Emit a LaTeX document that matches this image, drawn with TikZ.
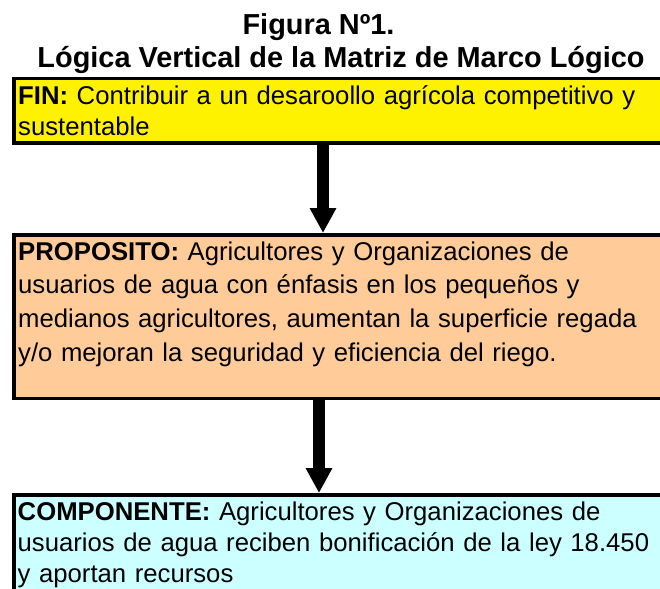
\documentclass[tikz,border=0pt]{standalone}
\usepackage{fontspec}
\setmainfont{Liberation Sans}
\usetikzlibrary{arrows.meta,positioning}

\definecolor{propcolor}{HTML}{FFCC99}
\definecolor{compcolor}{HTML}{CCFFFF}
\newcommand{\boxfont}{\fontsize{25.7}{31}\selectfont}
\newcommand{\figtitlefont}{\fontsize{28.9}{33}\selectfont\bfseries}

\begin{document}
\begin{tikzpicture}[x=1pt, y=1pt,
  logicbox/.style={draw, line width=3.5pt, rectangle, anchor=north west, minimum width=720pt, inner sep=0pt},
  boxtext/.style={anchor=base west, inner sep=0pt, text width=700pt, align=left, font=\boxfont},
  titletext/.style={anchor=base, inner sep=0pt, font=\figtitlefont},
  bigarrow/.style={line width=12pt, -{Triangle[length=25pt,width=25pt]}}
  ]
  \useasboundingbox (0,0) rectangle (660,-588);
  \clip (0,0) rectangle (660,-588);

  % Title
  \node[titletext] (title1) at (318.5,-35) {Figura Nº1.};
  \node[titletext] (title2) at (341,-68) {Lógica Vertical de la Matriz de Marco Lógico};

  % Boxes
  \node[logicbox, fill=yellow, minimum height=64.5pt] (fin) at (12,-77) {};
  \node[logicbox, fill=propcolor, minimum height=163.5pt] (prop) at (12,-233) {};
  \node[logicbox, fill=compcolor, minimum height=130pt] (comp) at (12,-493) {};

  % Texts
  \node[boxtext] (finText) at (18,-105)
    {\textbf{FIN:} Contribuir a un desaroollo agrícola competitivo y\\sustentable};
  \node[boxtext, font=\fontsize{25.7}{33.7}\selectfont] (propText) at (18,-260)
    {\textbf{PROPOSITO:} Agricultores y Organizaciones de\\usuarios de agua con énfasis en los pequeños y\\medianos agricultores, aumentan la superficie regada\\y/o mejoran la seguridad y eficiencia del riego.};
  \node[boxtext] (compText) at (17.5,-520)
    {\textbf{COMPONENTE:} Agricultores y Organizaciones de\\usuarios de agua reciben bonificación de la ley 18.450\\y aportan recursos};

  % Arrows
  \draw[bigarrow] ([xshift=311pt]fin.south west) -- ([xshift=311pt]prop.north west);
  \draw[bigarrow] ([xshift=307pt]prop.south west) -- ([xshift=307pt]comp.north west);

\end{tikzpicture}
\end{document}
